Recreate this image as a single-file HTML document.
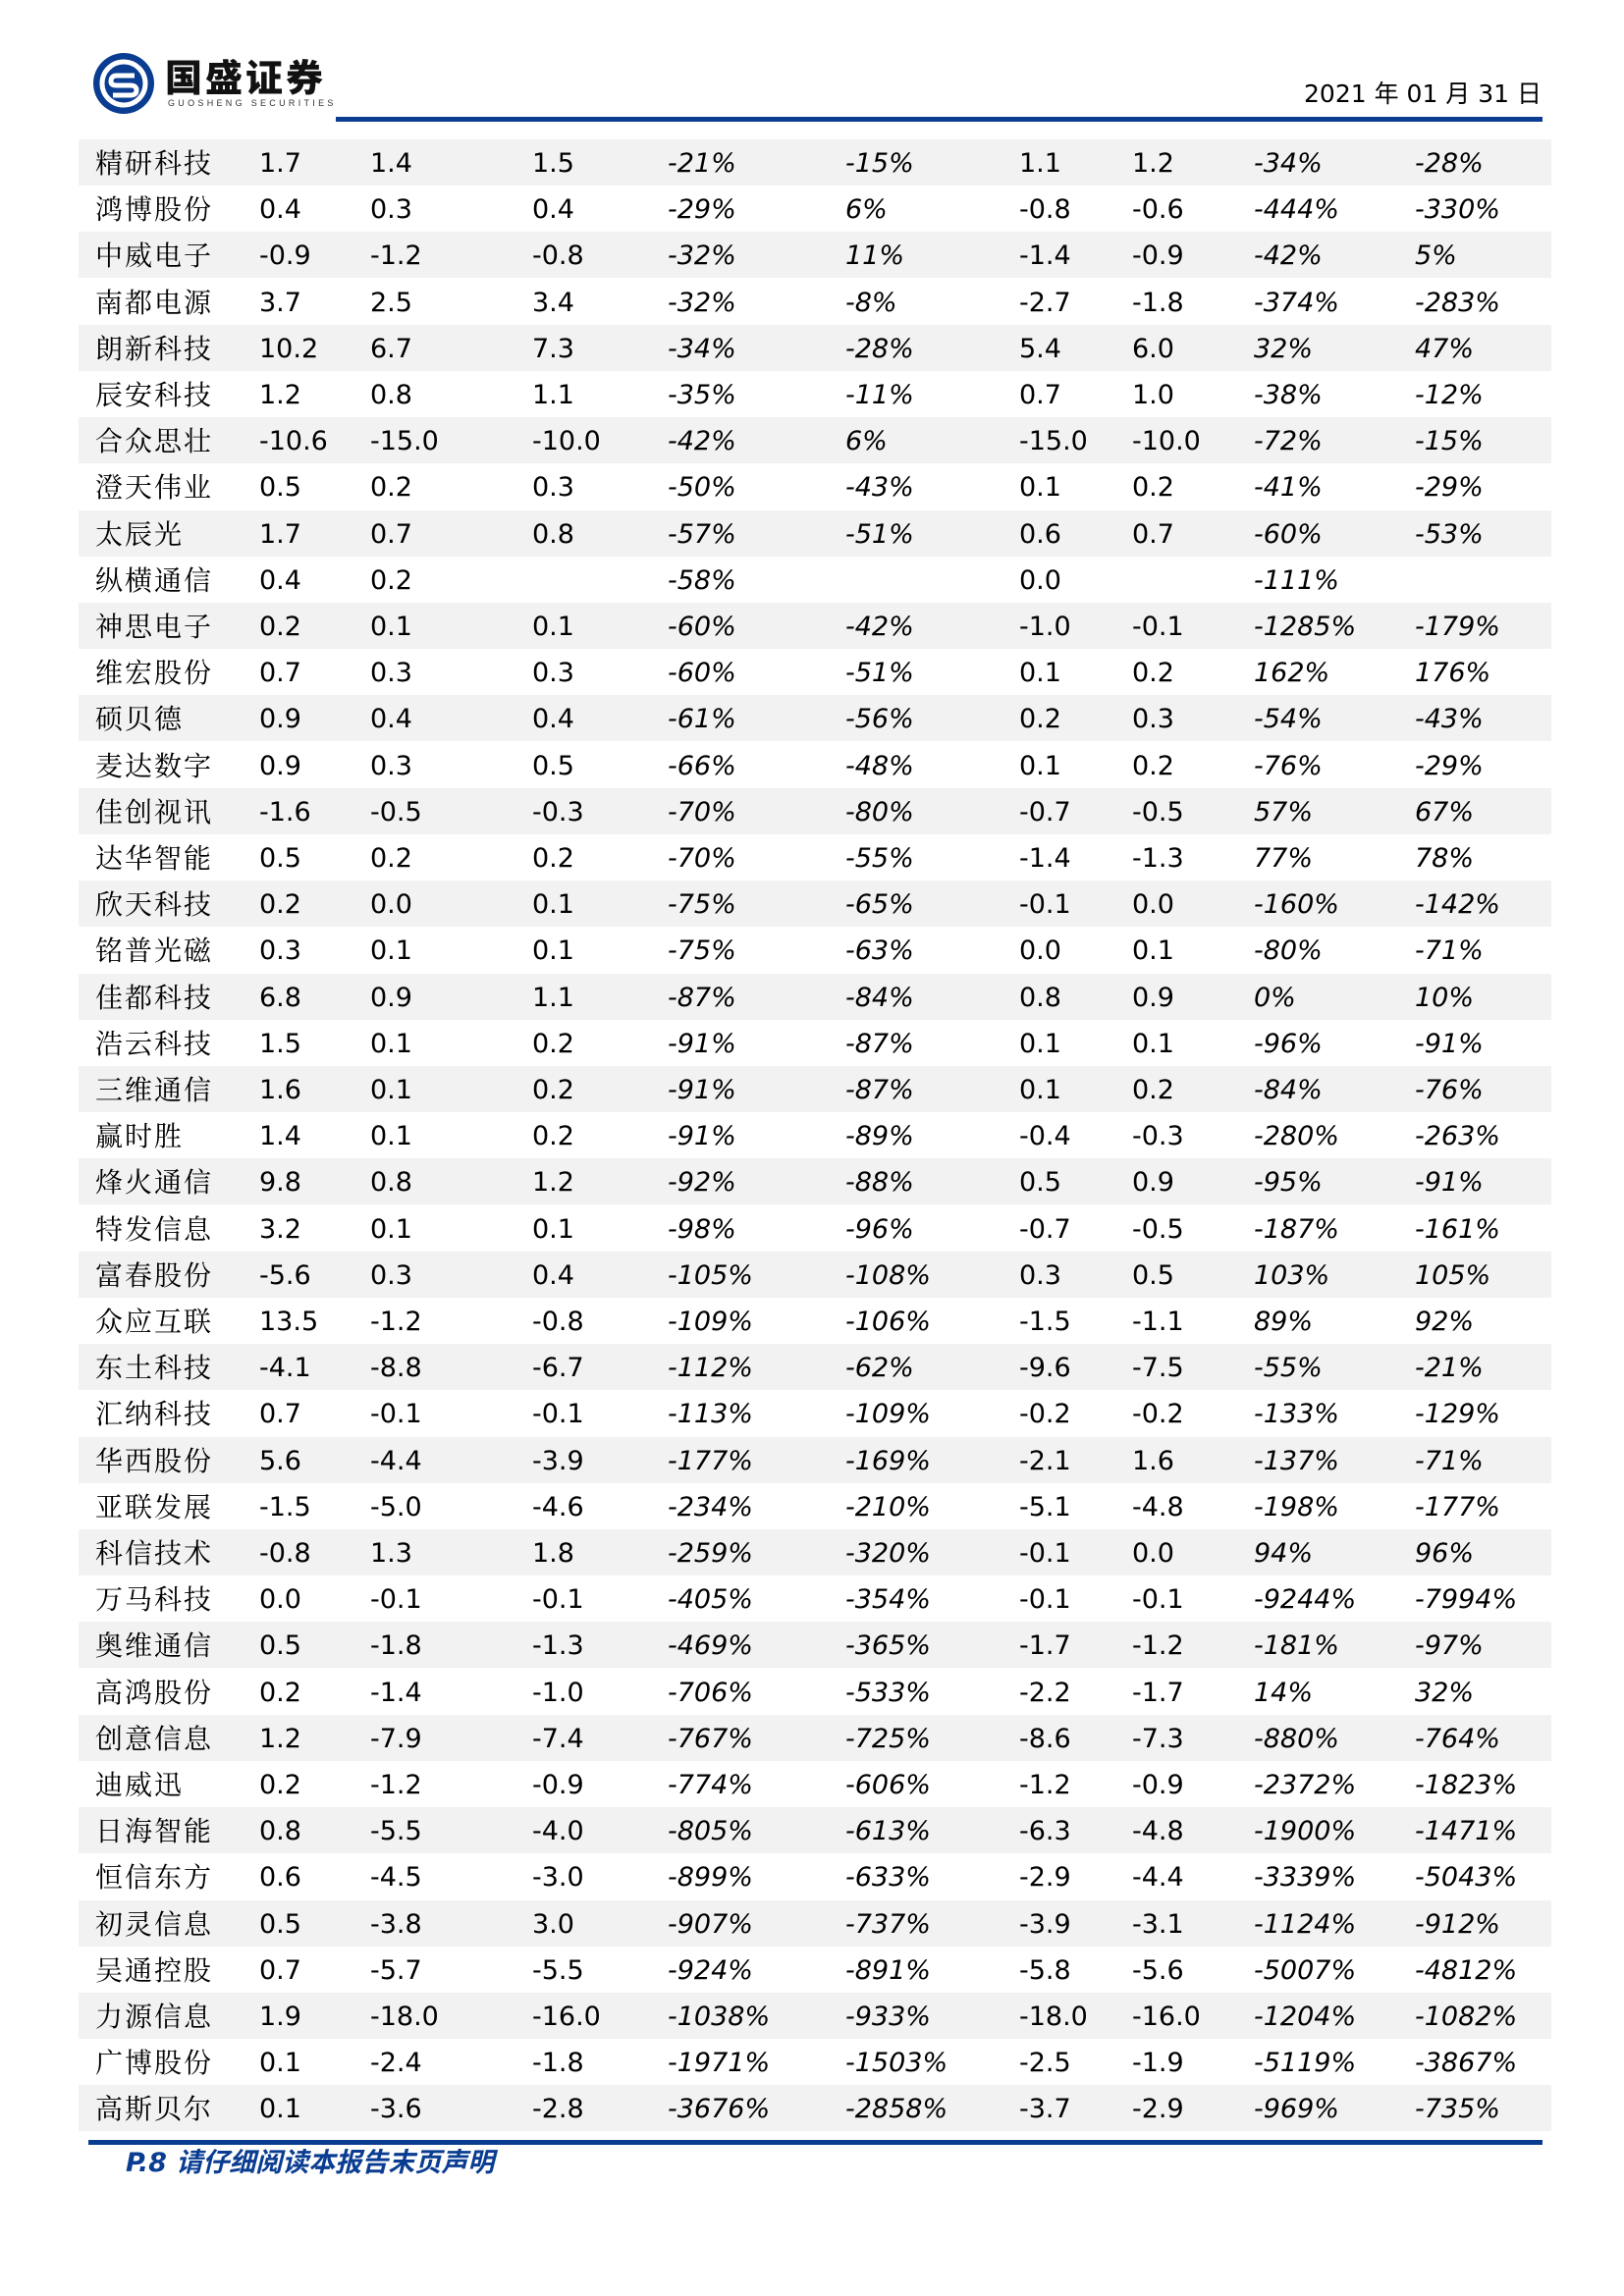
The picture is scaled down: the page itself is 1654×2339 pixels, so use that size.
<!DOCTYPE html>
<html><head><meta charset="utf-8">
<style>
html,body{margin:0;padding:0;background:#fff;}
body{width:1654px;height:2339px;position:relative;overflow:hidden;font-family:"DejaVu Sans","Liberation Sans",sans-serif;}
.abs{position:absolute;}
.row{position:absolute;left:80px;width:1500px;height:47px;}
.cell{position:absolute;top:0;height:47px;line-height:49px;font-size:27px;color:#000;white-space:nowrap;}
.name{font-family:"Noto Serif CJK SC","Liberation Serif",serif;font-size:28px;letter-spacing:2px;line-height:47px;font-weight:400;}
.it{font-style:italic;}
</style></head><body>
<div class="abs" style="left:93px;top:52px;width:66px;height:66px;">
<svg width="66" height="66" viewBox="0 0 66 66">
<circle cx="33" cy="33" r="31" fill="#0a3d91"/>
<circle cx="33" cy="33" r="22" fill="none" stroke="#fff" stroke-width="5"/>
<path d="M44 25 L26 25 Q20 25 20 31 Q20 35 26 35 L40 35 Q46 35 46 40 Q46 45 40 45 L22 45" fill="none" stroke="#fff" stroke-width="5"/>
</svg></div>
<div class="abs" style="left:168px;top:55px;font-family:'Noto Sans CJK SC',sans-serif;font-weight:900;font-size:38px;letter-spacing:3px;line-height:44px;color:#111;">国盛证券</div>
<div class="abs" style="left:171px;top:100px;font-family:'Liberation Sans',sans-serif;font-size:9px;letter-spacing:3.3px;color:#333;">GUOSHENG SECURITIES</div>
<div class="abs" style="right:84px;top:80px;font-family:'DejaVu Sans','Noto Sans CJK SC',sans-serif;font-size:25px;color:#000;line-height:32px;">2021 年 01 月 31 日</div>
<div class="abs" style="left:342px;top:119px;width:1229px;height:5px;background:#0a3d91;"></div>
<div id="table"></div>
<div class="abs" style="left:90px;top:2180px;width:1481px;height:5px;background:#0a3d91;"></div>
<div class="abs" style="left:128px;top:2187px;font-family:'DejaVu Sans','Noto Sans CJK SC',sans-serif;font-style:italic;font-weight:bold;font-size:27px;color:#0a3d91;line-height:34px;">P.8 请仔细阅读本报告末页声明</div>
<script>
const names=["精研科技","鸿博股份","中威电子","南都电源","朗新科技","辰安科技","合众思壮","澄天伟业","太辰光","纵横通信","神思电子","维宏股份","硕贝德","麦达数字","佳创视讯","达华智能","欣天科技","铭普光磁","佳都科技","浩云科技","三维通信","赢时胜","烽火通信","特发信息","富春股份","众应互联","东土科技","汇纳科技","华西股份","亚联发展","科信技术","万马科技","奥维通信","高鸿股份","创意信息","迪威迅","日海智能","恒信东方","初灵信息","吴通控股","力源信息","广博股份","高斯贝尔"];
const col1=["1.7","0.4","-0.9","3.7","10.2","1.2","-10.6","0.5","1.7","0.4","0.2","0.7","0.9","0.9","-1.6","0.5","0.2","0.3","6.8","1.5","1.6","1.4","9.8","3.2","-5.6","13.5","-4.1","0.7","5.6","-1.5","-0.8","0.0","0.5","0.2","1.2","0.2","0.8","0.6","0.5","0.7","1.9","0.1","0.1"];
const col2=["1.4","0.3","-1.2","2.5","6.7","0.8","-15.0","0.2","0.7","0.2","0.1","0.3","0.4","0.3","-0.5","0.2","0.0","0.1","0.9","0.1","0.1","0.1","0.8","0.1","0.3","-1.2","-8.8","-0.1","-4.4","-5.0","1.3","-0.1","-1.8","-1.4","-7.9","-1.2","-5.5","-4.5","-3.8","-5.7","-18.0","-2.4","-3.6"];
const col3=["1.5","0.4","-0.8","3.4","7.3","1.1","-10.0","0.3","0.8","","0.1","0.3","0.4","0.5","-0.3","0.2","0.1","0.1","1.1","0.2","0.2","0.2","1.2","0.1","0.4","-0.8","-6.7","-0.1","-3.9","-4.6","1.8","-0.1","-1.3","-1.0","-7.4","-0.9","-4.0","-3.0","3.0","-5.5","-16.0","-1.8","-2.8"];
const col4=["-21%","-29%","-32%","-32%","-34%","-35%","-42%","-50%","-57%","-58%","-60%","-60%","-61%","-66%","-70%","-70%","-75%","-75%","-87%","-91%","-91%","-91%","-92%","-98%","-105%","-109%","-112%","-113%","-177%","-234%","-259%","-405%","-469%","-706%","-767%","-774%","-805%","-899%","-907%","-924%","-1038%","-1971%","-3676%"];
const col5=["-15%","6%","11%","-8%","-28%","-11%","6%","-43%","-51%","","-42%","-51%","-56%","-48%","-80%","-55%","-65%","-63%","-84%","-87%","-87%","-89%","-88%","-96%","-108%","-106%","-62%","-109%","-169%","-210%","-320%","-354%","-365%","-533%","-725%","-606%","-613%","-633%","-737%","-891%","-933%","-1503%","-2858%"];
const col6=["1.1","-0.8","-1.4","-2.7","5.4","0.7","-15.0","0.1","0.6","0.0","-1.0","0.1","0.2","0.1","-0.7","-1.4","-0.1","0.0","0.8","0.1","0.1","-0.4","0.5","-0.7","0.3","-1.5","-9.6","-0.2","-2.1","-5.1","-0.1","-0.1","-1.7","-2.2","-8.6","-1.2","-6.3","-2.9","-3.9","-5.8","-18.0","-2.5","-3.7"];
const col7=["1.2","-0.6","-0.9","-1.8","6.0","1.0","-10.0","0.2","0.7","","-0.1","0.2","0.3","0.2","-0.5","-1.3","0.0","0.1","0.9","0.1","0.2","-0.3","0.9","-0.5","0.5","-1.1","-7.5","-0.2","1.6","-4.8","0.0","-0.1","-1.2","-1.7","-7.3","-0.9","-4.8","-4.4","-3.1","-5.6","-16.0","-1.9","-2.9"];
const col8=["-34%","-444%","-42%","-374%","32%","-38%","-72%","-41%","-60%","-111%","-1285%","162%","-54%","-76%","57%","77%","-160%","-80%","0%","-96%","-84%","-280%","-95%","-187%","103%","89%","-55%","-133%","-137%","-198%","94%","-9244%","-181%","14%","-880%","-2372%","-1900%","-3339%","-1124%","-5007%","-1204%","-5119%","-969%"];
const col9=["-28%","-330%","5%","-283%","47%","-12%","-15%","-29%","-53%","","-179%","176%","-43%","-29%","67%","78%","-142%","-71%","10%","-91%","-76%","-263%","-91%","-161%","105%","92%","-21%","-129%","-71%","-177%","96%","-7994%","-97%","32%","-764%","-1823%","-1471%","-5043%","-912%","-4812%","-1082%","-3867%","-735%"];
const cols=[col1,col2,col3,col4,col5,col6,col7,col8,col9];
const colX=[184,297,462,600,781,958,1073,1197,1361];
const italic=[false,false,false,true,true,false,false,true,true];
const table=document.getElementById('table');
const top0=142, rowH=47.2;
for(let i=0;i<names.length;i++){
  const r=document.createElement('div');
  r.className='row';
  
  
  r.style.top=(top0+i*rowH)+'px';
  r.style.background=(i%2===0)?'#f2f2f2':'#ffffff';
  const n=document.createElement('div');
  n.className='cell name';
  
  
  n.style.left='17px';
  n.textContent=names[i];
  r.appendChild(n);
  for(let c=0;c<cols.length;c++){
    const d=document.createElement('div');
    d.className='cell'+(italic[c]?' it':'');
    
    
    d.style.left=colX[c]+'px';
    d.textContent=cols[c][i];
    r.appendChild(d);
  }
  table.appendChild(r);
}
</script>
</body></html>
